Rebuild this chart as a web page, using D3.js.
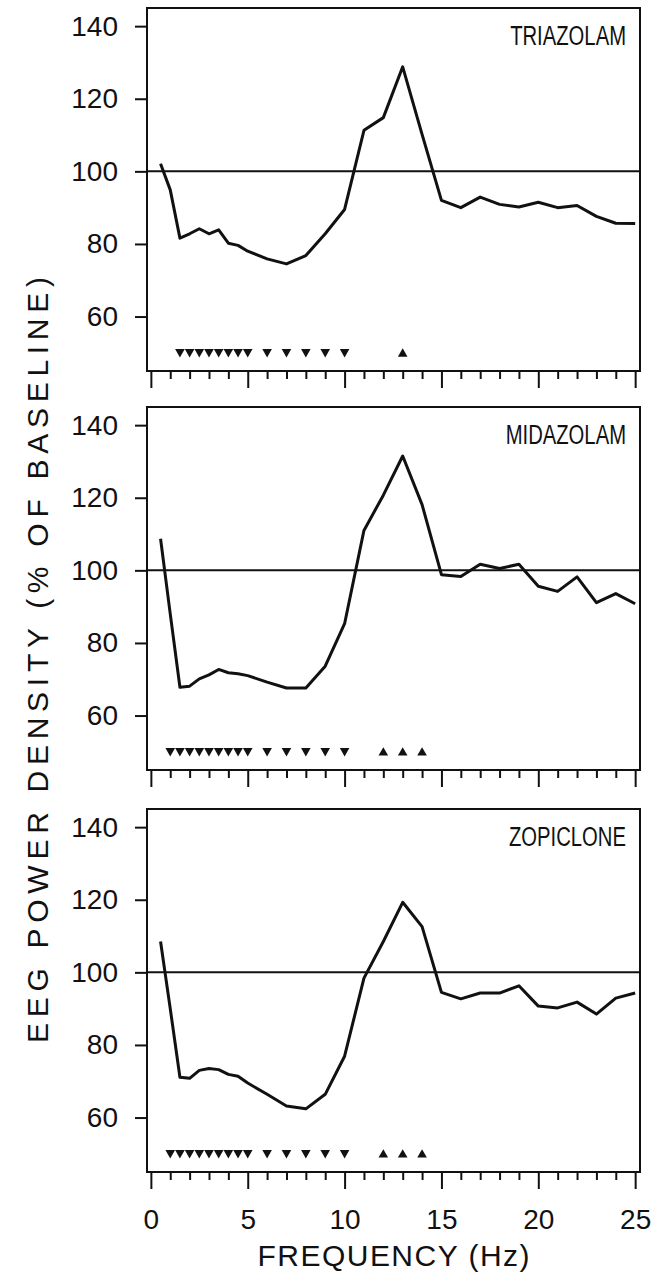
<!DOCTYPE html>
<html>
<head>
<meta charset="utf-8">
<script src="https://cdn.jsdelivr.net/npm/d3@7"></script>
<style>
  body { margin: 0; background: #fff; }
  svg { display: block; }
  text { font-family: "Liberation Sans", Arial, sans-serif; fill: #111; }
</style>
</head>
<body>
<script>
// frequency bins (Hz)
var freqs = [0.5, 1, 1.5, 2, 2.5, 3, 3.5, 4, 4.5, 5, 6, 7, 8, 9, 10, 11, 12, 13, 14, 15, 16, 17, 18, 19, 20, 21, 22, 23, 24, 25]

var triazolam = [102.1, 94.9, 81.6, 82.8, 84.2, 82.8, 83.9, 80.2, 79.6, 78.0, 75.9, 74.5, 76.8, 82.8, 89.5, 111.3, 114.8, 128.8, 110.2, 92.0, 90.0, 92.9, 90.9, 90.2, 91.5, 90.0, 90.6, 87.6, 85.7, 85.6]
var midazolam = [108.7, 88.0, 67.8, 68.1, 70.1, 71.2, 72.7, 71.8, 71.5, 71.0, 69.2, 67.6, 67.6, 73.6, 85.3, 111.0, 120.7, 131.5, 118.1, 98.8, 98.3, 101.7, 100.5, 101.7, 95.6, 94.2, 98.2, 91.1, 93.6, 90.8]
var zopiclone = [108.5, 90.0, 71.1, 70.8, 73.0, 73.5, 73.2, 71.9, 71.4, 69.5, 66.4, 63.2, 62.4, 66.4, 76.9, 98.4, 108.5, 119.3, 112.6, 94.5, 92.7, 94.3, 94.3, 96.3, 90.7, 90.2, 91.8, 88.5, 92.9, 94.3]

// significance markers (down = decrease, up = increase)
var triazolamDown = [1.5, 2, 2.5, 3, 3.5, 4, 4.5, 5, 6, 7, 8, 9, 10]
var triazolamUp = [13]
var midazolamDown = [1, 1.5, 2, 2.5, 3, 3.5, 4, 4.5, 5, 6, 7, 8, 9, 10]
var midazolamUp = [12, 13, 14]
var zopicloneDown = [1, 1.5, 2, 2.5, 3, 3.5, 4, 4.5, 5, 6, 7, 8, 9, 10]
var zopicloneUp = [12, 13, 14]

var yTicks = [60, 80, 100, 120, 140]
var xMajor = [0, 5, 10, 15, 20, 25]
var xMinor = [1, 2, 3, 4, 6, 7, 8, 9, 11, 12, 13, 14, 16, 17, 18, 19, 21, 22, 23, 24]
var markerLevel = 50
var baselineLevel = 100

var panels = [
	{name: 'TRIAZOLAM', values: triazolam, down: triazolamDown, up: triazolamUp},
	{name: 'MIDAZOLAM', values: midazolam, down: midazolamDown, up: midazolamUp},
	{name: 'ZOPICLONE', values: zopiclone, down: zopicloneDown, up: zopicloneUp}
]

var width = 658, height = 1284
var svg = d3.select('body').append('svg').attr('width', width).attr('height', height)

var frameLeft = 147, frameRight = 640
var panelTops = [8, 407, 809]
var panelHeight = 363
var ink = '#111'

var x = d3.scaleLinear().domain([-0.2, 25.25]).range([frameLeft, frameRight])

panels.forEach(function(p, i) {
	var top = panelTops[i]
	var y = d3.scaleLinear().domain([45, 145]).range([top + panelHeight, top])
	var g = svg.append('g')

	// frame
	g.append('rect')
		.attr('x', frameLeft).attr('y', top)
		.attr('width', frameRight - frameLeft).attr('height', panelHeight)
		.attr('fill', 'none').attr('stroke', ink).attr('stroke-width', 2)

	// y axis, ticks pointing out
	var yAxis = g.append('g').attr('transform', `translate(${frameLeft},0)`)
		.call(d3.axisLeft(y).tickValues(yTicks).tickSize(12).tickPadding(17))
	yAxis.select('.domain').remove()
	yAxis.selectAll('line').attr('stroke', ink).attr('stroke-width', 2)
	yAxis.selectAll('text').attr('font-size', 28).attr('fill', ink)

	// x axis: major + minor ticks below frame
	var xg = g.append('g').attr('transform', `translate(0,${top + panelHeight})`)
	var xAxisMajor = xg.append('g').call(d3.axisBottom(x).tickValues(xMajor).tickSize(17).tickPadding(20))
	xAxisMajor.select('.domain').remove()
	xAxisMajor.selectAll('line').attr('stroke', ink).attr('stroke-width', 2)
	xAxisMajor.selectAll('text').attr('font-size', 28).attr('fill', ink)
	if (i < panels.length - 1) xAxisMajor.selectAll('text').remove()
	var xAxisMinor = xg.append('g').call(d3.axisBottom(x).tickValues(xMinor).tickSize(8).tickFormat(''))
	xAxisMinor.select('.domain').remove()
	xAxisMinor.selectAll('line').attr('stroke', ink).attr('stroke-width', 2)

	// 100% baseline
	g.append('line')
		.attr('x1', frameLeft).attr('x2', frameRight)
		.attr('y1', y(baselineLevel)).attr('y2', y(baselineLevel))
		.attr('stroke', ink).attr('stroke-width', 2)

	// curve
	var line = d3.line()
		.x(function(d, j) { return x(freqs[j]) })
		.y(function(d) { return y(d) })
	g.append('path')
		.datum(p.values)
		.attr('d', line)
		.attr('fill', 'none')
		.attr('stroke', ink)
		.attr('stroke-width', 3)
		.attr('stroke-linejoin', 'round')

	// triangles
	var tri = d3.symbol().type(d3.symbolTriangle).size(40)
	g.selectAll('.down').data(p.down).enter().append('path')
		.attr('class', 'down')
		.attr('d', tri)
		.attr('transform', function(d) { return `translate(${x(d)},${y(markerLevel) - 1}) rotate(180)` })
		.attr('fill', ink)
	g.selectAll('.up').data(p.up).enter().append('path')
		.attr('class', 'up')
		.attr('d', tri)
		.attr('transform', function(d) { return `translate(${x(d)},${y(markerLevel) + 1})` })
		.attr('fill', ink)

	// panel title, condensed
	g.append('text')
		.text(p.name)
		.attr('transform', `translate(626,${top + 37}) scale(0.75,1)`)
		.attr('text-anchor', 'end')
		.attr('font-size', 27)
})

// axis titles
svg.append('text')
	.text('FREQUENCY (Hz)')
	.attr('x', (frameLeft + frameRight) / 2)
	.attr('y', 1266)
	.attr('text-anchor', 'middle')
	.attr('font-size', 30)
	.attr('textLength', 272)
	.attr('lengthAdjust', 'spacing')

svg.append('text')
	.text('EEG POWER DENSITY (% OF BASELINE)')
	.attr('transform', 'translate(48,660) rotate(-90)')
	.attr('text-anchor', 'middle')
	.attr('font-size', 30)
	.attr('textLength', 766)
	.attr('lengthAdjust', 'spacing')
</script>
</body>
</html>
